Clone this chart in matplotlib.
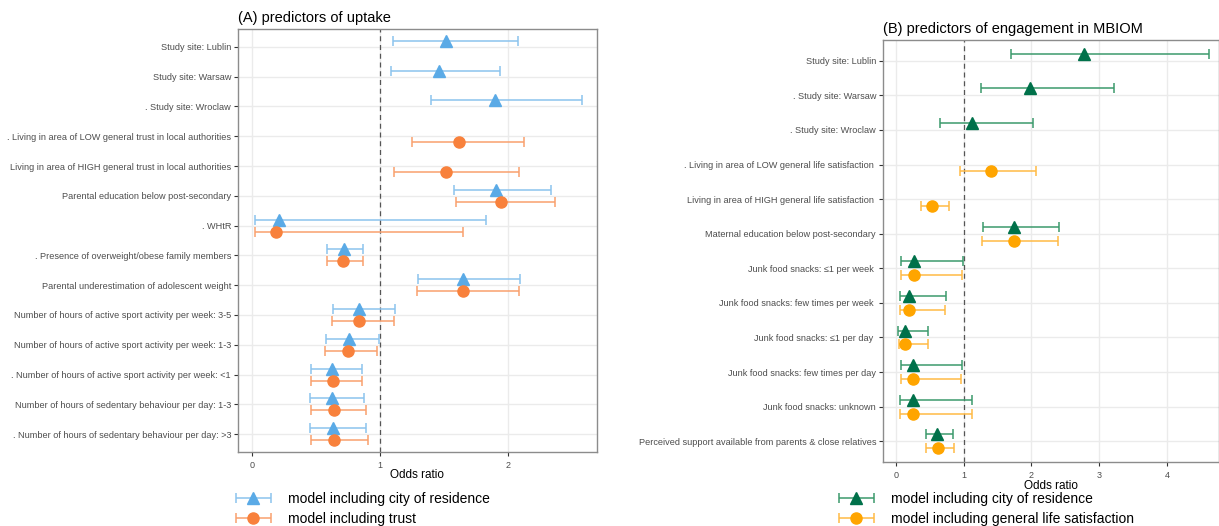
import numpy as np
import matplotlib
matplotlib.use('Agg')
import matplotlib.pyplot as plt
from matplotlib.container import ErrorbarContainer
from matplotlib.legend_handler import HandlerErrorbar

plt.rcParams['font.family'] = ['Liberation Sans', 'DejaVu Sans']

nan = np.nan

# ---- panel A: predictors of uptake
labels_a = ['Study site: Lublin', 'Study site: Warsaw', '. Study site: Wroclaw',
            '. Living in area of LOW general trust in local authorities',
            'Living in area of HIGH general trust in local authorities',
            'Parental education below post-secondary', '. WHtR',
            '. Presence of overweight/obese family members',
            'Parental underestimation of adolescent weight',
            'Number of hours of active sport activity per week: 3-5',
            'Number of hours of active sport activity per week: 1-3',
            '. Number of hours of active sport activity per week: <1',
            'Number of hours of sedentary behaviour per day: 1-3',
            '. Number of hours of sedentary behaviour per day: >3']
city_or = [1.515, 1.46, 1.90, nan, nan, 1.91, 0.21, 0.72, 1.65, 0.84, 0.76, 0.625, 0.625, 0.63]
city_lo = [1.10, 1.09, 1.40, nan, nan, 1.58, 0.02, 0.59, 1.30, 0.63, 0.58, 0.46, 0.45, 0.45]
city_hi = [2.08, 1.94, 2.58, nan, nan, 2.34, 1.83, 0.87, 2.10, 1.12, 0.99, 0.86, 0.875, 0.89]
trust_or = [nan, nan, nan, 1.62, 1.52, 1.945, 0.19, 0.71, 1.65, 0.835, 0.75, 0.63, 0.64, 0.64]
trust_lo = [nan, nan, nan, 1.25, 1.11, 1.60, 0.02, 0.59, 1.29, 0.625, 0.57, 0.46, 0.46, 0.46]
trust_hi = [nan, nan, nan, 2.13, 2.09, 2.37, 1.65, 0.87, 2.09, 1.11, 0.98, 0.86, 0.89, 0.91]

# ---- panel B: predictors of engagement in MBIOM
labels_b = ['Study site: Lublin', '. Study site: Warsaw', '. Study site: Wroclaw',
            '. Living in area of LOW general life satisfaction ',
            'Living in area of HIGH general life satisfaction ',
            'Maternal education below post-secondary',
            'Junk food snacks: \u22641 per week ',
            'Junk food snacks: few times per week ',
            'Junk food snacks: \u22641 per day ',
            'Junk food snacks: few times per day',
            'Junk food snacks: unknown',
            'Perceived support available from parents & close relatives']
res_or = [2.78, 1.98, 1.13, nan, nan, 1.75, 0.27, 0.20, 0.13, 0.26, 0.25, 0.61]
res_lo = [1.70, 1.25, 0.65, nan, nan, 1.28, 0.08, 0.06, 0.03, 0.08, 0.06, 0.45]
res_hi = [4.62, 3.22, 2.02, nan, nan, 2.41, 0.99, 0.74, 0.48, 0.97, 1.13, 0.85]
sat_or = [nan, nan, nan, 1.40, 0.53, 1.74, 0.27, 0.20, 0.13, 0.26, 0.25, 0.62]
sat_lo = [nan, nan, nan, 0.95, 0.37, 1.27, 0.08, 0.06, 0.04, 0.08, 0.06, 0.45]
sat_hi = [nan, nan, nan, 2.07, 0.79, 2.40, 0.98, 0.73, 0.47, 0.96, 1.13, 0.86]


def draw_series(ax, orr, lo, hi, dy, color, ecolor, marker, ms, label):
    orr, lo, hi = np.array(orr), np.array(lo), np.array(hi)
    y = np.arange(len(orr)) + dy
    ok = ~np.isnan(orr)
    return ax.errorbar(orr[ok], y[ok], xerr=[orr[ok] - lo[ok], hi[ok] - orr[ok]],
                       fmt=marker, color=color, ecolor=ecolor, ms=ms, elinewidth=1.1,
                       capsize=3.5, capthick=1.1, label=label, zorder=3)


def style_axes(ax, labels, xlim, xticks, lpad):
    n = len(labels)
    ax.set_xlim(*xlim)
    ax.set_ylim(n - 0.4, -0.6)
    ax.set_yticks(range(n))
    ax.set_yticklabels(labels, fontsize=6.6, color='#4D4D4D')
    ax.set_xticks(xticks)
    ax.tick_params(axis='x', labelsize=6.5, labelcolor='#4D4D4D', length=3, color='#333333')
    ax.tick_params(axis='y', length=3, color='#333333', pad=2)
    ax.grid(True, color='#EBEBEB', lw=1.0, zorder=0)
    ax.set_axisbelow(True)
    for s in ax.spines.values():
        s.set_color('#8C8C8C')
        s.set_linewidth(1.0)
    ax.axvline(1, color='#555555', ls=(0, (4, 3)), lw=0.9, zorder=2)
    ax.set_xlabel('Odds ratio', fontsize=8.5, color='black', labelpad=lpad)


fig = plt.figure(figsize=(12.19, 5.26), dpi=100)
W, H = 1219, 526

ax_a = fig.add_axes([238 / W, 1 - 452 / H, (597 - 238) / W, (452 - 29) / H])
ha1 = draw_series(ax_a, city_or, city_lo, city_hi, -0.2, '#5AAAE6', '#8CC3EE', '^', 8.5,
                  'model including city of residence')
ha2 = draw_series(ax_a, trust_or, trust_lo, trust_hi, 0.2, '#F8813C', '#F9A06E', 'o', 8,
                  'model including trust')
style_axes(ax_a, labels_a, (-0.11, 2.70), [0, 1, 2], -1)
ax_a.set_ylim(13.6, -0.6)
ax_a.set_title('(A) predictors of uptake', loc='left', fontsize=10.5, pad=5, x=0.0)

ax_b = fig.add_axes([883 / W, 1 - 462 / H, (1219 - 883) / W, (462 - 40) / H])
hb1 = draw_series(ax_b, res_or, res_lo, res_hi, -0.2, '#00714A', '#3C9A6C', '^', 8.5,
                  'model including city of residence')
hb2 = draw_series(ax_b, sat_or, sat_lo, sat_hi, 0.2, '#FFA500', '#FFBA45', 'o', 8,
                  'model including general life satisfaction')
style_axes(ax_b, labels_b, (-0.19, 4.77), [0, 1, 2, 3, 4], 0)
ax_b.set_title('(B) predictors of engagement in MBIOM', loc='left', fontsize=10.5, pad=5)

hmap = {ErrorbarContainer: HandlerErrorbar(xerr_size=1.25, numpoints=1)}
fig.legend([ha1, ha2], [ha1.get_label(), ha2.get_label()], loc='upper left',
           bbox_to_anchor=(231 / W, 1 - 489 / H), frameon=False, fontsize=10,
           handlelength=2.8, handletextpad=1.1, labelspacing=0.45, handler_map=hmap,
           borderaxespad=0, borderpad=0.2)
fig.legend([hb1, hb2], [hb1.get_label(), hb2.get_label()], loc='upper left',
           bbox_to_anchor=(834 / W, 1 - 489 / H), frameon=False, fontsize=10,
           handlelength=2.8, handletextpad=1.1, labelspacing=0.45, handler_map=hmap,
           borderaxespad=0, borderpad=0.2)

fig.savefig('out.png', dpi=100)
